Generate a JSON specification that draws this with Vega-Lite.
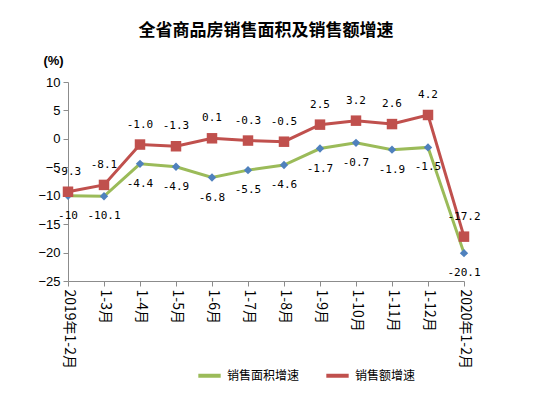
{
  "$schema": "https://vega.github.io/schema/vega-lite/v6.json",
  "width": 396,
  "height": 199,
  "autosize": "none",
  "padding": {"left": 68, "top": 82, "right": 90, "bottom": 118},
  "background": "white",
  "config": {"view": {"stroke": null}},
  "title": {
    "text": "全省商品房销售面积及销售额增速",
    "font": "Noto Sans CJK SC",
    "fontSize": 17,
    "fontWeight": "bold",
    "color": "#000000",
    "anchor": "middle",
    "offset": 14
  },
  "data": {
    "values": [
      {"month": "2019年1-2月", "series": "销售面积增速", "value": -10, "label": "-10"},
      {"month": "1-3月", "series": "销售面积增速", "value": -10.1, "label": "-10.1"},
      {"month": "1-4月", "series": "销售面积增速", "value": -4.4, "label": "-4.4"},
      {"month": "1-5月", "series": "销售面积增速", "value": -4.9, "label": "-4.9"},
      {"month": "1-6月", "series": "销售面积增速", "value": -6.8, "label": "-6.8"},
      {"month": "1-7月", "series": "销售面积增速", "value": -5.5, "label": "-5.5"},
      {"month": "1-8月", "series": "销售面积增速", "value": -4.6, "label": "-4.6"},
      {"month": "1-9月", "series": "销售面积增速", "value": -1.7, "label": "-1.7"},
      {"month": "1-10月", "series": "销售面积增速", "value": -0.7, "label": "-0.7"},
      {"month": "1-11月", "series": "销售面积增速", "value": -1.9, "label": "-1.9"},
      {"month": "1-12月", "series": "销售面积增速", "value": -1.5, "label": "-1.5"},
      {"month": "2020年1-2月", "series": "销售面积增速", "value": -20.1, "label": "-20.1"},
      {"month": "2019年1-2月", "series": "销售额增速", "value": -9.3, "label": "-9.3"},
      {"month": "1-3月", "series": "销售额增速", "value": -8.1, "label": "-8.1"},
      {"month": "1-4月", "series": "销售额增速", "value": -1.0, "label": "-1.0"},
      {"month": "1-5月", "series": "销售额增速", "value": -1.3, "label": "-1.3"},
      {"month": "1-6月", "series": "销售额增速", "value": 0.1, "label": "0.1"},
      {"month": "1-7月", "series": "销售额增速", "value": -0.3, "label": "-0.3"},
      {"month": "1-8月", "series": "销售额增速", "value": -0.5, "label": "-0.5"},
      {"month": "1-9月", "series": "销售额增速", "value": 2.5, "label": "2.5"},
      {"month": "1-10月", "series": "销售额增速", "value": 3.2, "label": "3.2"},
      {"month": "1-11月", "series": "销售额增速", "value": 2.6, "label": "2.6"},
      {"month": "1-12月", "series": "销售额增速", "value": 4.2, "label": "4.2"},
      {"month": "2020年1-2月", "series": "销售额增速", "value": -17.2, "label": "-17.2"}
    ]
  },
  "encoding": {
    "x": {
      "field": "month",
      "type": "ordinal",
      "sort": null,
      "scale": {"type": "point", "padding": 0},
      "axis": {
        "title": null,
        "labelAngle": 90,
        "labelAlign": "left",
        "labelBaseline": "middle",
        "labelFont": "Noto Sans CJK SC",
        "labelFontSize": 14,
        "labelColor": "#000000",
        "labelPadding": 3,
        "domainColor": "#8c8c8c",
        "tickColor": "#8c8c8c",
        "tickSize": 5,
        "grid": false
      }
    },
    "y": {
      "field": "value",
      "type": "quantitative",
      "scale": {"domain": [-25, 10], "nice": false, "zero": false},
      "axis": {
        "values": [-25, -20, -15, -10, -5, 0, 5, 10],
        "title": "(%)",
        "titleAngle": 0,
        "titleX": -15,
        "titleY": -22,
        "titleAlign": "center",
        "titleBaseline": "middle",
        "titleFont": "Liberation Sans",
        "titleFontSize": 13,
        "titleFontWeight": "bold",
        "titleColor": "#000000",
        "labelFont": "Liberation Sans",
        "labelFontSize": 13,
        "labelColor": "#000000",
        "labelPadding": 3,
        "domainColor": "#8c8c8c",
        "tickColor": "#8c8c8c",
        "tickSize": 5,
        "grid": false
      }
    }
  },
  "layer": [
    {
      "mark": {"type": "line", "strokeWidth": 3},
      "encoding": {
        "color": {
          "field": "series",
          "type": "nominal",
          "scale": {"domain": ["销售面积增速", "销售额增速"], "range": ["#9BBB59", "#C0504D"]},
          "legend": {
            "title": null,
            "orient": "none",
            "direction": "horizontal",
            "legendX": 128,
            "legendY": 280,
            "symbolType": "stroke",
            "symbolStrokeWidth": 4,
            "symbolSize": 500,
            "labelFont": "Noto Sans CJK SC",
            "labelFontSize": 12,
            "labelColor": "#000000",
            "columnPadding": 18
          }
        }
      }
    },
    {
      "transform": [{"filter": "datum.series === '销售面积增速'"}],
      "mark": {"type": "point", "shape": "diamond", "filled": true, "size": 70, "color": "#4F81BD", "opacity": 1}
    },
    {
      "transform": [{"filter": "datum.series === '销售额增速'"}],
      "mark": {"type": "point", "shape": "square", "filled": true, "size": 110, "color": "#C0504D", "opacity": 1}
    },
    {
      "transform": [{"filter": "datum.series === '销售面积增速'"}],
      "mark": {"type": "text", "dy": 20, "font": "DejaVu Sans Mono", "fontSize": 11, "color": "#000000", "baseline": "middle"},
      "encoding": {"text": {"field": "label"}}
    },
    {
      "transform": [{"filter": "datum.series === '销售额增速'"}],
      "mark": {"type": "text", "dy": -20, "font": "DejaVu Sans Mono", "fontSize": 11, "color": "#000000", "baseline": "middle"},
      "encoding": {"text": {"field": "label"}}
    }
  ]
}
